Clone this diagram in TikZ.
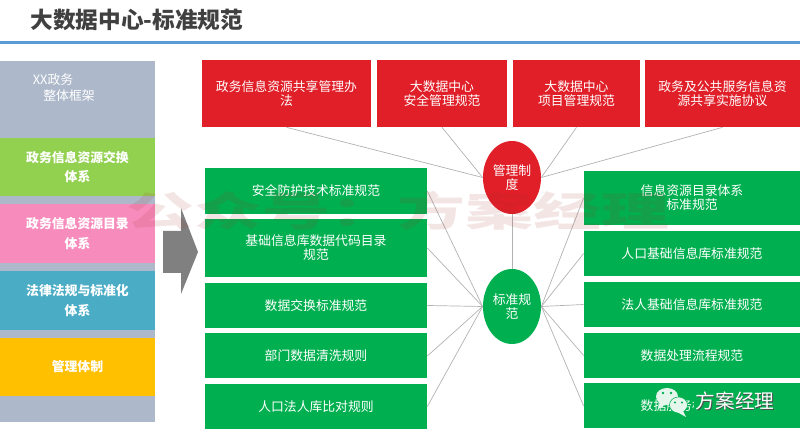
\documentclass[tikz,border=0pt]{standalone}
\usepackage{fontspec}
\setmainfont{Noto Sans CJK SC}
\usetikzlibrary{shapes.geometric}
\definecolor{panelgrey}{HTML}{ADB9CA}
\definecolor{ruleblue}{HTML}{5B9BD5}
\definecolor{zhidured}{HTML}{E01F28}
\definecolor{guifangreen}{HTML}{00B050}
\definecolor{sidegreen}{HTML}{92D050}
\definecolor{sidepink}{HTML}{F78CBC}
\definecolor{sideblue}{HTML}{4BACC6}
\definecolor{sideyellow}{HTML}{FFC000}
\definecolor{markred}{HTML}{A82A2A}

\begin{document}
\begin{tikzpicture}[x=0.2mm, y=-0.2mm,
  boxtext/.style={text=white, inner sep=0pt, align=center, font=\fontsize{7.3pt}{7.95pt}\selectfont},
  redbox/.style={boxtext, fill=zhidured, minimum height=13.4mm},
  greenbox/.style={boxtext, fill=guifangreen},
  sidebox/.style={boxtext, minimum width=31mm, minimum height=11.7mm, font=\fontsize{7.3pt}{11.3pt}\selectfont\bfseries},
  hub/.style={boxtext, ellipse, minimum width=11.6mm},
  link/.style={draw=black!30, line width=0.4pt}]
  \useasboundingbox (0,0) rectangle (800,437);

  % 标题
  \node[anchor=west, inner sep=0pt, text=black!75, font=\fontsize{12.9pt}{15pt}\selectfont\bfseries] (title) at (30,20) {大数据中心-标准规范};
  \draw[ruleblue, line width=1.6pt] (0,42.5) -- (800,42.5);

  % 左侧框架
  \node[fill=panelgrey, minimum width=31mm, minimum height=72.2mm, inner sep=0pt] (panel) at (77.5,241.5) {};
  \node[boxtext] (paneltext) at (53,88) {XX政务\\[1.1pt]\hspace{2.5em}整体框架};
  \node[sidebox, fill=sidegreen] (jiaohuan) at (77.5,167) {政务信息资源交换\\体系};
  \node[sidebox, fill=sidepink] (mulu) at (77.5,233.5) {政务信息资源目录\\体系};
  \node[sidebox, fill=sideblue] (falv) at (77.5,300.5) {法律法规与标准化\\体系};
  \node[sidebox, fill=sideyellow] (tizhi) at (77.5,367) {管理体制};

  % 灰色箭头
  \fill[black!50] (163,231) -- (181,231) -- (181,208) -- (198,252) -- (181,294) -- (181,273) -- (163,273) -- cycle;

  % 管理制度
  \node[redbox, minimum width=33.8mm] (r1) at (286.5,93.5) {政务信息资源共享管理办\\法};
  \node[redbox, minimum width=26mm] (r2) at (442,93.5) {大数据中心\\安全管理规范};
  \node[redbox, minimum width=25.4mm] (r3) at (576.5,93.5) {大数据中心\\项目管理规范};
  \node[redbox, minimum width=31mm] (r4) at (722.5,93.5) {政务及公共服务信息资\\源共享实施协议};
  \node[hub, fill=zhidured, minimum height=14.6mm] (zhidu) at (512,177.5) {管理制\\度};

  % 标准规范
  \node[greenbox, minimum width=44.4mm, minimum height=9.2mm] (a1) at (316,191) {安全防护技术标准规范};
  \node[greenbox, minimum width=44.4mm, minimum height=11.6mm] (a2) at (316,248) {基础信息库数据代码目录\\规范};
  \node[greenbox, minimum width=44.4mm, minimum height=9mm] (a3) at (316,305.5) {数据交换标准规范};
  \node[greenbox, minimum width=44.4mm, minimum height=9mm] (a4) at (316,356) {部门数据清洗规则};
  \node[greenbox, minimum width=44.4mm, minimum height=9mm] (a5) at (316,406.5) {人口法人库比对规则};
  \node[greenbox, minimum width=43.2mm, minimum height=10.8mm] (b1) at (692,198) {信息资源目录体系\\标准规范};
  \node[greenbox, minimum width=43.2mm, minimum height=9mm] (b2) at (692,253.5) {人口基础信息库标准规范};
  \node[greenbox, minimum width=43.2mm, minimum height=9mm] (b3) at (692,304.5) {法人基础信息库标准规范};
  \node[greenbox, minimum width=43.2mm, minimum height=9mm] (b4) at (692,355.5) {数据处理流程规范};
  \node[greenbox, minimum width=43.2mm, minimum height=9mm] (b5) at (692,406) {数据服务标准规范};
  \node[hub, fill=guifangreen, minimum height=15mm] (guifan) at (512,306.5) {标准规\\范};

  % 连线
  \draw[link] (r1.south) -- (zhidu.west);
  \draw[link] (r2.south) -- (zhidu.west);
  \draw[link] (r3.south) -- (zhidu.east);
  \draw[link] (r4.south) -- (zhidu.east);
  \draw[link] (zhidu.south) -- (guifan.north);
  \draw[link] (a1.east) -- (guifan.west);
  \draw[link] (a2.east) -- (guifan.west);
  \draw[link] (a3.east) -- (guifan.west);
  \draw[link] (a4.east) -- (guifan.west);
  \draw[link] (a5.east) -- (guifan.west);
  \draw[link] (b1.west) -- (guifan.east);
  \draw[link] (b2.west) -- (guifan.east);
  \draw[link] (b3.west) -- (guifan.east);
  \draw[link] (b4.west) -- (guifan.east);
  \draw[link] (b5.west) -- (guifan.east);

  % 水印
  \node[xscale=1.68, inner sep=0pt, text=markred, text opacity=0.12, font=\fontsize{23pt}{25pt}\selectfont\bfseries] (mark) at (398,211) {公众号：方案经理};

  % 右下角标识
  \fill[white!90!guifangreen] (667,396.5) ellipse (11 and 8.5);
  \fill[white!90!guifangreen] (660,402) -- (658,409) -- (666,404) -- cycle;
  \fill[guifangreen] (663,393) circle (1.3);
  \fill[guifangreen] (671,393) circle (1.3);
  \filldraw[fill=white!90!guifangreen, draw=guifangreen, line width=0.3pt] (678.5,405) ellipse (9 and 8);
  \fill[white!90!guifangreen] (683,411) -- (686,417) -- (677,412) -- cycle;
  \fill[guifangreen] (675,402.5) circle (1.1);
  \fill[guifangreen] (682,402.5) circle (1.1);
  \node[inner sep=1pt, fill=guifangreen, text=black!70, font=\fontsize{11.2pt}{12pt}\selectfont] (logoshadow) at (735.6,401.8) {方案经理};
  \node[inner sep=0pt, text=white, font=\fontsize{11.2pt}{12pt}\selectfont] (logotext) at (735,401) {方案经理};
\end{tikzpicture}
\end{document}
